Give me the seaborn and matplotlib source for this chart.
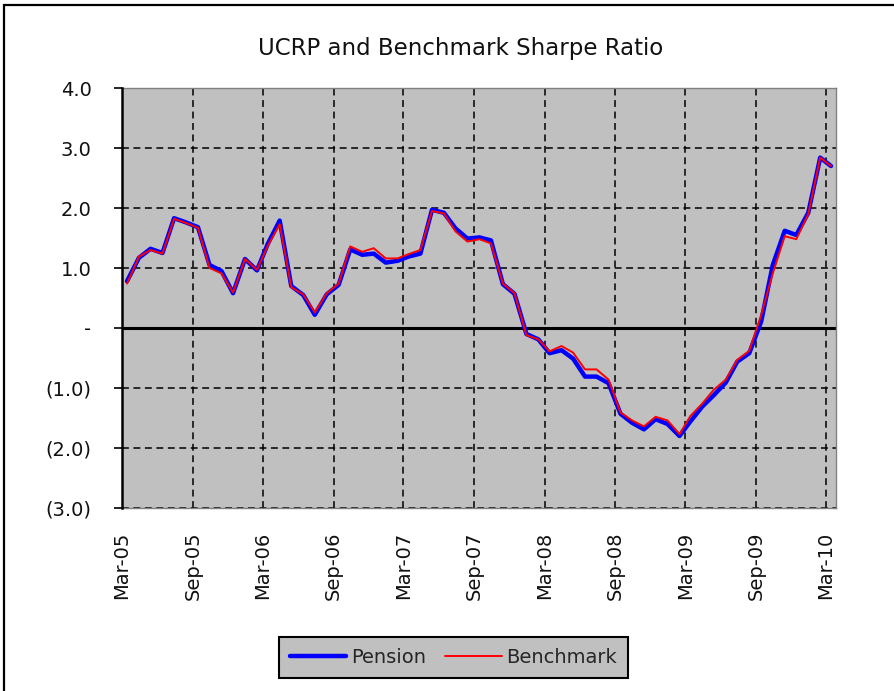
import numpy as np
import pandas as pd
import matplotlib
matplotlib.use('Agg')
import matplotlib.pyplot as plt
import seaborn as sns
from matplotlib.patches import Rectangle

# ---- data ----
months = pd.date_range('2005-03-01', '2010-03-01', freq='MS') + pd.Timedelta(days=13)
pension = [0.78, 1.17, 1.32, 1.25, 1.83, 1.76, 1.68, 1.05, 0.95, 0.58,
           1.15, 0.96, 1.40, 1.79, 0.70, 0.55, 0.22, 0.56, 0.72, 1.31,
           1.22, 1.24, 1.09, 1.12, 1.19, 1.24, 1.97, 1.92, 1.66, 1.49,
           1.51, 1.46, 0.73, 0.57, -0.10, -0.19, -0.42, -0.37, -0.51, -0.81,
           -0.81, -0.92, -1.43, -1.58, -1.69, -1.52, -1.60, -1.80, -1.56, -1.31,
           -1.12, -0.91, -0.56, -0.42, 0.11, 1.05, 1.62, 1.55, 1.92, 2.84, 2.70]
benchmark = [0.74, 1.19, 1.30, 1.24, 1.82, 1.75, 1.67, 1.00, 0.91, 0.59,
             1.15, 0.97, 1.37, 1.73, 0.68, 0.56, 0.26, 0.58, 0.74, 1.36,
             1.27, 1.33, 1.16, 1.16, 1.23, 1.30, 1.95, 1.91, 1.61, 1.44,
             1.48, 1.41, 0.74, 0.58, -0.12, -0.19, -0.39, -0.30, -0.41, -0.69,
             -0.69, -0.86, -1.41, -1.54, -1.64, -1.48, -1.54, -1.77, -1.47, -1.26,
             -1.03, -0.86, -0.53, -0.38, 0.22, 0.91, 1.53, 1.48, 1.90, 2.84, 2.70]
tick_dates = pd.date_range('2005-03-01', '2010-03-01', freq='6MS')
tick_labels = ['Mar-05', 'Sep-05', 'Mar-06', 'Sep-06', 'Mar-07', 'Sep-07',
               'Mar-08', 'Sep-08', 'Mar-09', 'Sep-09', 'Mar-10']
y_ticks = [-3, -2, -1, 0, 1, 2, 3, 4]
y_tick_labels = ['(3.0)', '(2.0)', '(1.0)', '-', '1.0', '2.0', '3.0', '4.0']
title = 'UCRP and Benchmark Sharpe Ratio'

sns.set_style('white')
plt.rcParams['font.family'] = ['DejaVu Sans']

W, H = 895, 691
fig = plt.figure(figsize=(W / 100, H / 100), dpi=100)
fig.patch.set_facecolor('white')

# outer chart border (top and left visible)
fig.patches.append(Rectangle((4 / W, -0.2), 1.5, 1.2 - 5 / H, transform=fig.transFigure,
                             fill=False, edgecolor='black', lw=1.6))

ax = fig.add_axes([122 / W, 183 / H, 714 / W, 420 / H])
ax.set_facecolor('#C0C0C0')

df = pd.DataFrame({'date': months, 'Pension': pension, 'Benchmark': benchmark})
sns.lineplot(data=df, x='date', y='Pension', ax=ax, color='#0000FF', lw=3.2,
             label='Pension', zorder=3)
sns.lineplot(data=df, x='date', y='Benchmark', ax=ax, color='#FF0000', lw=1.4,
             label='Benchmark', zorder=4)
handles, labels = ax.get_legend_handles_labels()
ax.get_legend().remove()

ax.set_xlim(pd.Timestamp('2005-03-01'), pd.Timestamp('2010-03-27'))
ax.set_ylim(-3, 4)
ax.set_xticks(tick_dates)
ax.set_xticklabels(tick_labels, rotation=90)
ax.set_yticks(y_ticks)
ax.set_yticklabels(y_tick_labels)
ax.set_xlabel('')
ax.set_ylabel('')

ax.set_axisbelow(True)
ax.grid(True, color='black', linestyle=(0, (4.5, 3)), lw=1.1)
ax.axhline(0, color='black', lw=2.2, zorder=2)

for s in ['top', 'right', 'bottom']:
    ax.spines[s].set_color('#808080')
    ax.spines[s].set_linewidth(1.0)
ax.spines['left'].set_color('black')
ax.spines['left'].set_linewidth(1.8)
ax.spines['left'].set_zorder(5)

ax.tick_params(axis='y', length=6, width=1.2, color='black', pad=16,
               labelsize=14, left=True, direction='out')
ax.tick_params(axis='x', length=0, pad=17, labelsize=14)
for lbl in ax.get_xticklabels() + ax.get_yticklabels():
    lbl.set_color('#111111')

fig.text(461 / W, 1 - 48 / H, title, ha='center', va='center', fontsize=16.5,
         color='#111111')

leg = fig.legend(handles, labels, loc='center', bbox_to_anchor=(453.5 / W, 33.5 / H),
                 ncol=2, frameon=True, fancybox=False, facecolor='#C0C0C0',
                 edgecolor='black', framealpha=1, fontsize=14, handlelength=2.9,
                 handletextpad=0.25, columnspacing=1.0, borderpad=0.55)
leg.get_frame().set_linewidth(1.5)

fig.savefig('out.png', dpi=100)
